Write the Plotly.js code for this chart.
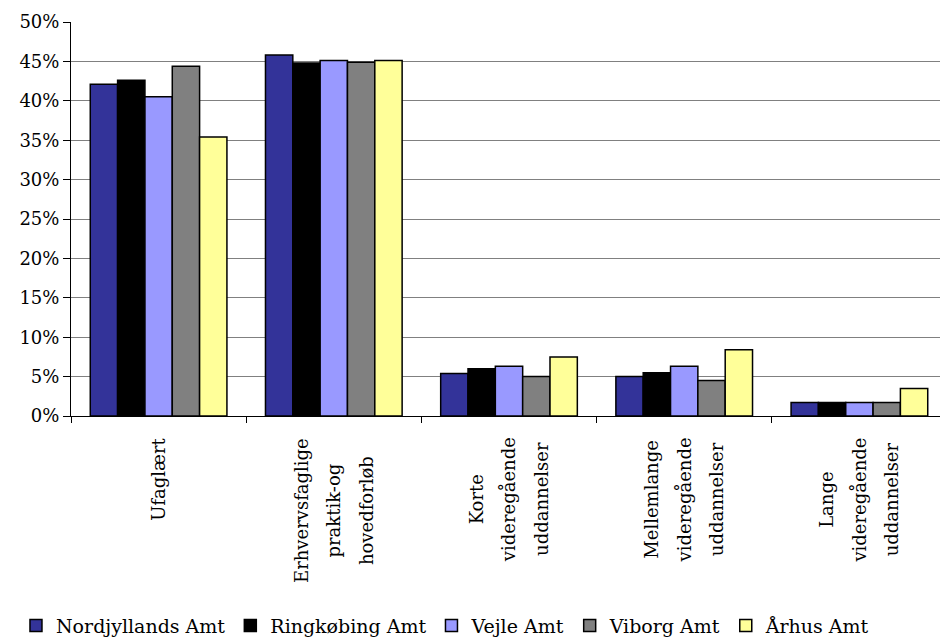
<!DOCTYPE html>
<html>
<head>
<meta charset="utf-8">
<script src="https://cdn.plot.ly/plotly-3.0.1.min.js"></script>
<style>
html,body{margin:0;padding:0;background:#fff;}
#chart{width:940px;height:637px;}
</style>
</head>
<body>
<div id="chart"></div>
<script>
const categories = ["Ufaglært", "Erhvervsfaglige praktik-og hovedforløb", "Korte videregående uddannelser", "Mellemlange videregående uddannelser", "Lange videregående uddannelser"];
const categoryLines = [["Ufaglært"], ["Erhvervsfaglige", "praktik-og", "hovedforløb"], ["Korte", "videregående", "uddannelser"], ["Mellemlange", "videregående", "uddannelser"], ["Lange", "videregående", "uddannelser"]];
const seriesNames = ["Nordjyllands Amt", "Ringkøbing Amt", "Vejle Amt", "Viborg Amt", "Århus Amt"];
const nordjyllands = [0.421, 0.458, 0.054, 0.050, 0.017];
const ringkobing = [0.426, 0.448, 0.060, 0.055, 0.017];
const vejle = [0.405, 0.451, 0.063, 0.063, 0.017];
const viborg = [0.444, 0.449, 0.050, 0.045, 0.017];
const arhus = [0.354, 0.451, 0.075, 0.084, 0.035];
const yTickValues = [0, 0.05, 0.10, 0.15, 0.20, 0.25, 0.30, 0.35, 0.40, 0.45, 0.50];

const colors = ["#333399", "#000000", "#9999FF", "#808080", "#FFFF99"];
const allValues = [nordjyllands, ringkobing, vejle, viborg, arhus];
const FONT = "DejaVu Serif";

const traces = seriesNames.map((name, i) => ({
  type: "bar",
  name: name,
  x: categories,
  y: allValues[i],
  marker: {color: colors[i], line: {color: "#000000", width: 1.5}},
  hoverinfo: "none"
}));

const annotations = categories.map((c, i) => ({
  x: c, xref: "x",
  y: -0.05, yref: "paper",
  yanchor: "top", xanchor: "center",
  text: categoryLines[i].map(s => '<span style="font-size:18px">' + s + '</span>').join("<br>"),
  textangle: -90,
  showarrow: false,
  align: "center",
  font: {family: FONT, size: 25, color: "#000"}
}));

const layout = {
  width: 940, height: 637,
  margin: {l: 71, r: 0, t: 22, b: 221, pad: 0},
  paper_bgcolor: "#fff", plot_bgcolor: "#fff",
  barmode: "group",
  bargap: 0.22, bargroupgap: 0,
  font: {family: FONT, size: 18, color: "#000"},
  showlegend: true,
  legend: {orientation: "h", x: 0.017, xanchor: "left", xref: "container", y: 0.018, yanchor: "middle", yref: "container",
           font: {family: FONT, size: 19, color: "#000"}, traceorder: "normal", itemwidth: 30},
  xaxis: {
    type: "category",
    range: [-0.5, 4.46],
    showticklabels: false,
    ticks: "outside", ticklen: 6, tickcolor: "#000", tickwidth: 1,
    tickson: "boundaries",
    showline: true, linecolor: "#000", linewidth: 1,
    showgrid: false, zeroline: false, fixedrange: true
  },
  yaxis: {
    range: [0, 0.5],
    tickvals: yTickValues,
    tickformat: ".0%",
    ticks: "outside", ticklen: 7, tickcolor: "#000", tickwidth: 1,
    showline: true, linecolor: "#000", linewidth: 1,
    showgrid: true, gridcolor: "#808080", gridwidth: 1,
    zeroline: false,
    tickfont: {family: FONT, size: 18, color: "#000"},
    fixedrange: true
  },
  annotations: annotations
};

Plotly.newPlot("chart", traces, layout, {displayModeBar: false, staticPlot: true});
</script>
</body>
</html>
